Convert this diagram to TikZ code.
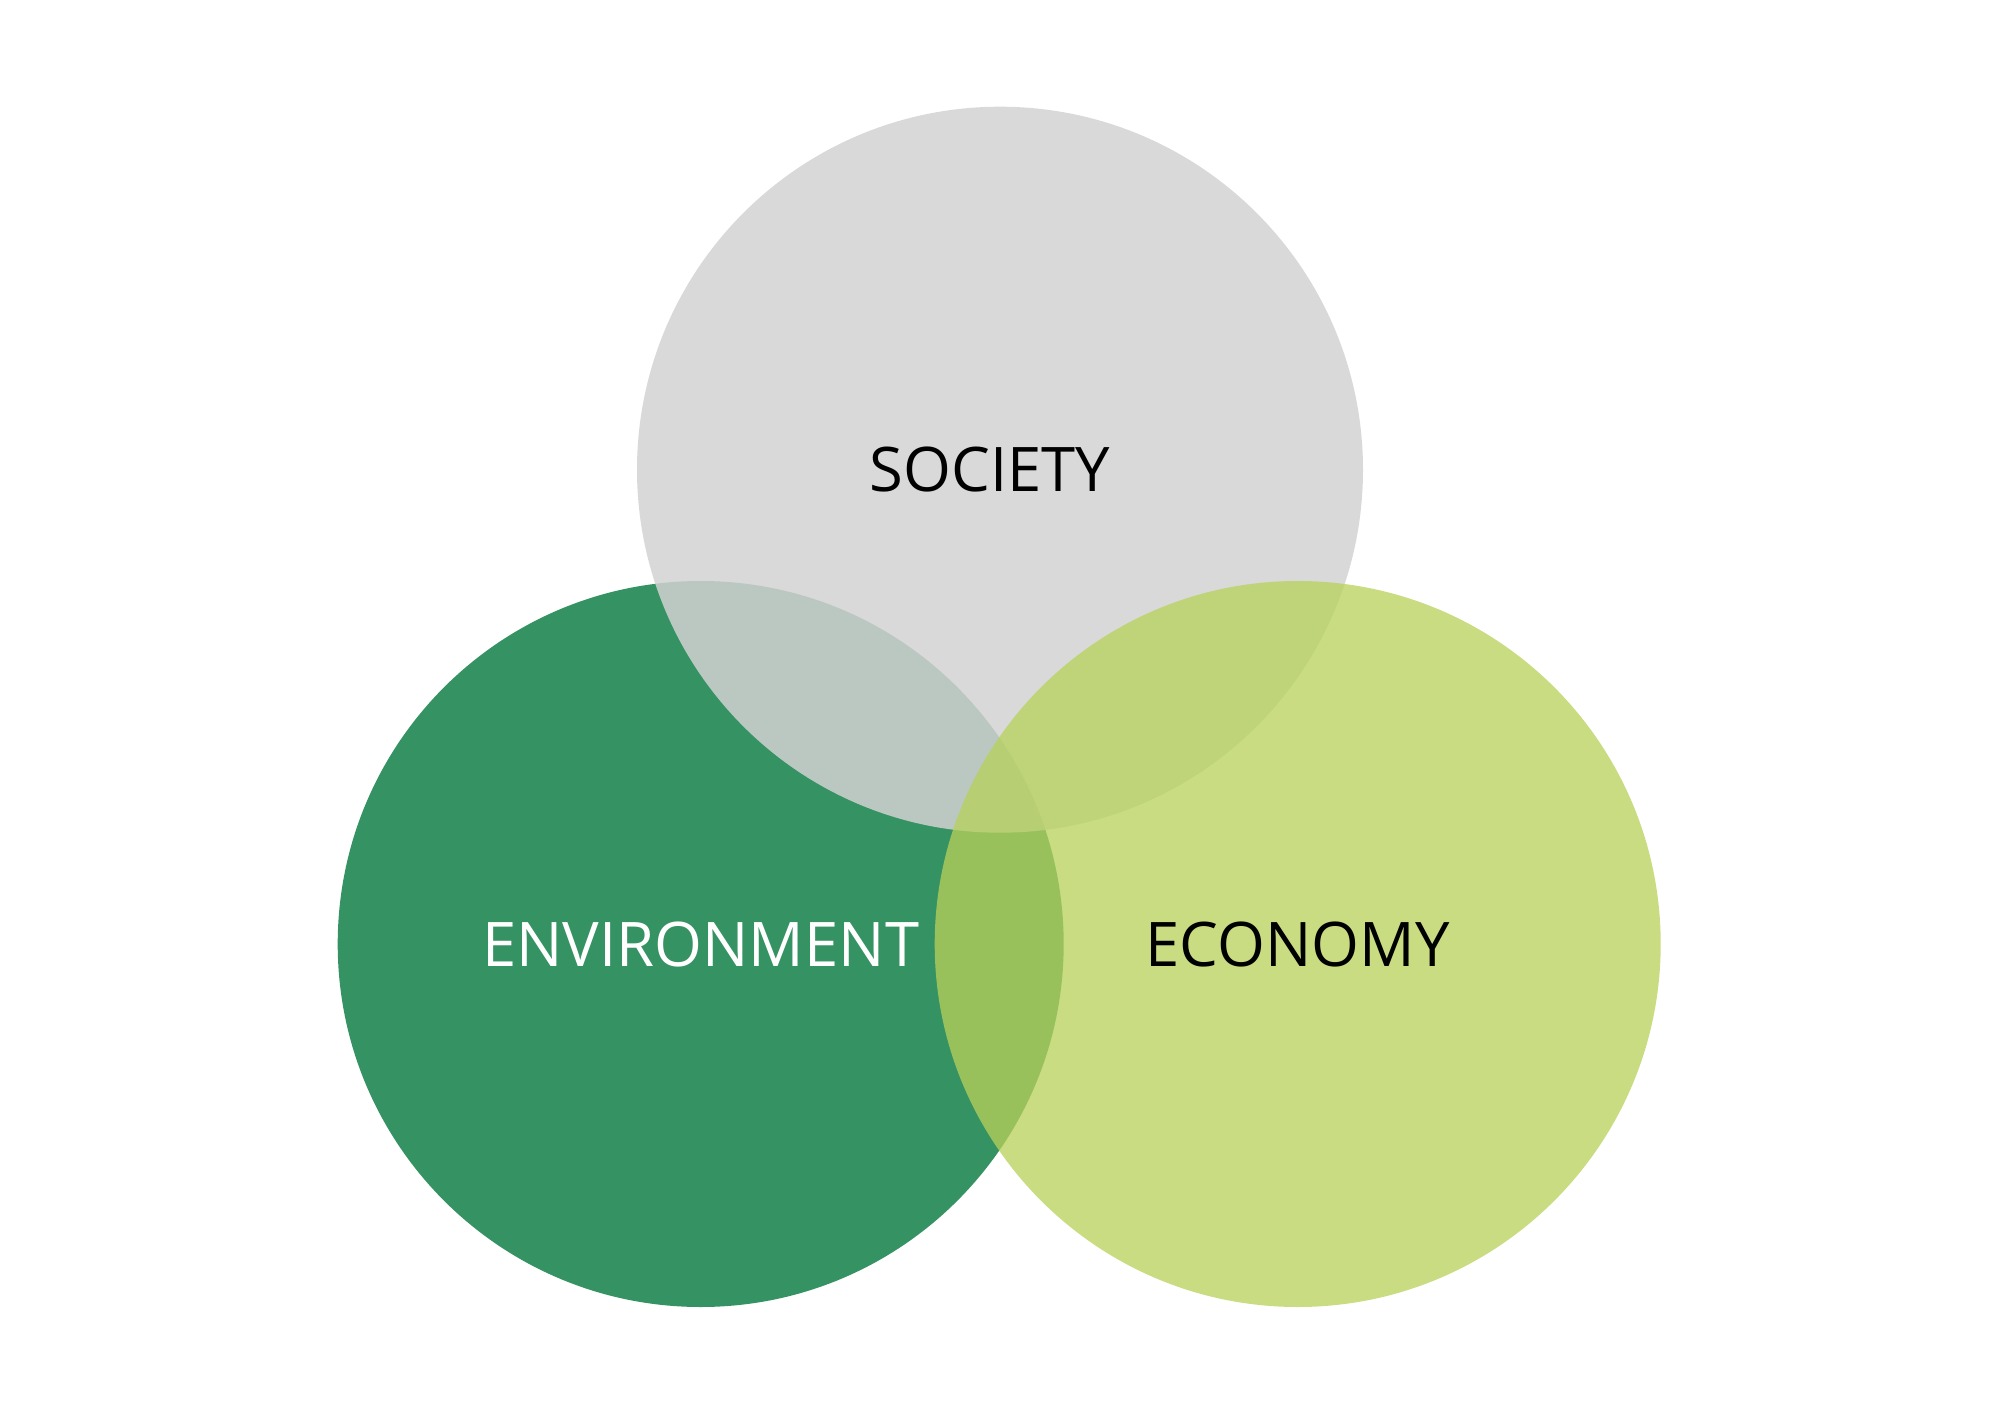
\documentclass[tikz,border=0pt]{standalone}
\usepackage{fontspec}
\setmainfont{Open Sans}
\usepackage{xcolor}
\usepackage{tikz}
\usetikzlibrary{positioning,calc}

\definecolor{envgreen}{RGB}{53,146,98}
\definecolor{socgray}{RGB}{210,210,210}
\definecolor{ecolime}{RGB}{184,209,91}

\begin{document}
\begin{tikzpicture}[
    pillar/.style={circle, inner sep=0pt, minimum size=7.26cm, font=\fontsize{17.5}{21}\selectfont}
  ]
            \useasboundingbox (0,0) rectangle (20,14.13);
            \def\R{3.63}
            \coordinate (Center) at (10,6.27);

            \node (Environment) at (7.007,4.69) [pillar, fill=envgreen, text=white] {ENVIRONMENT};
            \node (Society) at (10,9.433) [pillar, fill=socgray, fill opacity=0.85, text opacity=1, text=black] {\hspace*{-0.2cm}SOCIETY};
            \node (Economy) at (12.977,4.69) [pillar, fill=ecolime, fill opacity=0.76, text opacity=1, text=black] {ECONOMY};
        \end{tikzpicture}
\end{document}
